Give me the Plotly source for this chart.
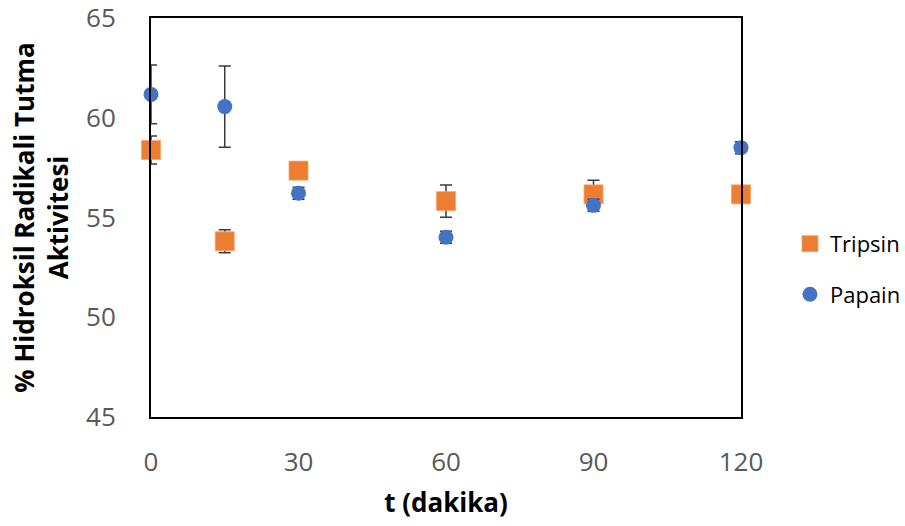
import plotly.graph_objects as go

# Sampling times (minutes)
t_min = [0, 15, 30, 60, 90, 120]

# Hydroxyl radical scavenging activity (%)
tripsin = [58.38, 53.81, 57.35, 55.82, 56.16, 56.16]
tripsin_err = [0.70, 0.58, 0.30, 0.81, 0.71, 0.30]

papain = [61.17, 60.56, 56.22, 54.01, 55.61, 58.50]
papain_err = [1.47, 2.04, 0.30, 0.30, 0.30, 0.30]

y_ticks = [45, 50, 55, 60, 65]
x_ticks = [0, 30, 60, 90, 120]

err_style = dict(type="data", thickness=1.5, width=6, color="#3a3a3a")

fig = go.Figure()
fig.add_trace(go.Scatter(
    x=t_min, y=tripsin, name="Tripsin", mode="markers", legendgroup="t",
    marker=dict(symbol="square", size=19, color="#ED7D31",
                line=dict(color="#F4A36E", width=0.8)),
    error_y=dict(array=tripsin_err, **err_style),
    cliponaxis=False,
))
fig.add_trace(go.Scatter(
    x=t_min, y=papain, name="Papain", mode="markers", legendgroup="p",
    marker=dict(symbol="circle", size=15, color="#4472C4",
                line=dict(width=0)),
    error_y=dict(array=papain_err, **err_style),
    cliponaxis=False,
))

tick_font = dict(family="Open Sans", size=26, color="#595959")
title_font = dict(family="Open Sans", size=26, color="black", weight="bold")

fig.update_layout(
    width=905, height=526,
    margin=dict(l=151, r=164, t=18, b=109, autoexpand=False),
    paper_bgcolor="white", plot_bgcolor="white",
    showlegend=True,
    legend=dict(
        x=1.083, xanchor="left", xref="paper", y=0.37, yanchor="middle",
        font=dict(family="Open Sans", size=22, color="black"),
        itemsizing="trace", traceorder="grouped", tracegroupgap=19,
        itemwidth=30, bgcolor="rgba(0,0,0,0)",
    ),
    xaxis=dict(
        range=[0, 120], tickvals=x_ticks, ticks="", showgrid=False,
        zeroline=False, showline=True, linecolor="black", linewidth=2,
        mirror=True, tickfont=tick_font, ticklabelstandoff=21,
        ticklabeloverflow="allow",
        title=dict(text="t (dakika)", font=title_font, standoff=16),
    ),
    yaxis=dict(
        range=[45, 65], tickvals=y_ticks, ticks="", showgrid=False,
        zeroline=False, showline=True, linecolor="black", linewidth=2,
        mirror=True, tickfont=tick_font, ticklabelstandoff=28,
        ticklabeloverflow="allow",
        title=dict(text="% Hidroksil Radikali Tutma<br>Aktivitesi",
                   font=title_font, standoff=10),
    ),
)

fig.write_html("out.html")
